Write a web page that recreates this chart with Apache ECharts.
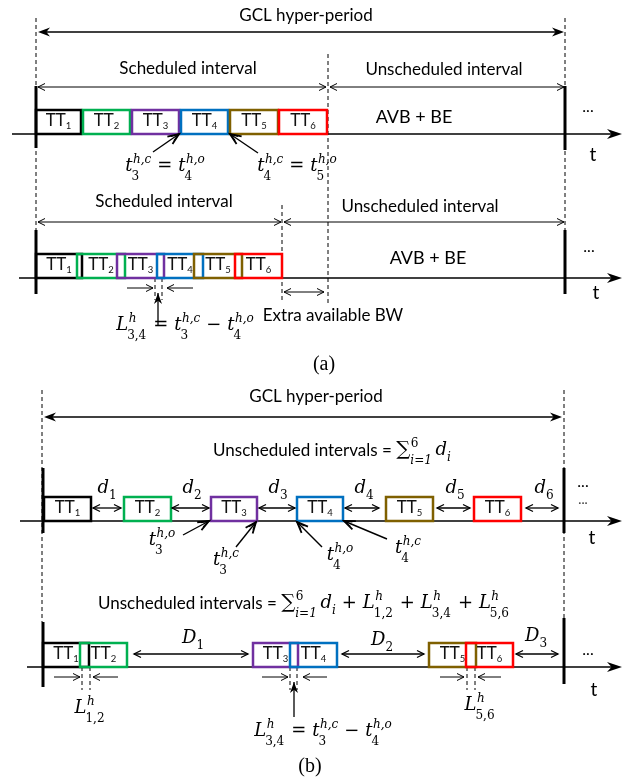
<!DOCTYPE html>
<html><head><meta charset="utf-8">
<script src="https://cdn.jsdelivr.net/npm/echarts@6/dist/echarts.min.js"></script>
<style>html,body{margin:0;padding:0;background:#fff}#c{width:626px;height:781px}</style>
</head><body><div id="c"></div>
<script>
// ---------------- data ----------------
const ttIds = ['1','2','3','4','5','6'];
const ttColors = ['#000000','#00b050','#7030a0','#0070c0','#7f6000','#ff0000'];
const rowBaseline = [134, 278, 521, 667];   // time-axis level of each row
const boxHeight = 24;
// [open, close] time of each TT window per row
const boxesA1 = [[36,81],[83,130],[132,179],[181,228],[230,278],[279,327]];
const boxesA2 = [[36,82],[77,125],[117,164],[157,203],[194,242],[235,282]];
const boxesB1 = [[44,91],[124,171],[211,257],[297,343],[386,433],[474,521]];
const boxesB2 = [[43,89],[80,127],[253,298],[290,337],[429,476],[466,513]];
const rowBoxes = [boxesA1, boxesA2, boxesB1, boxesB2];

// GCL hyper-period borders [x, y1, y2]
const periodBars = [[36,86,148],[565,86,150],[36,230,294],[565,230,294],[43,468,533],[564,468,533],[43,622,687],[564,618,684]];
// dashed guide lines [x, y1, y2]
const dashedLines = [[36,18,230],[565,18,230],[328,54,303],[282,205,303],[155,278,300],[162,278,300],
  [42,390,622],[564,390,618],[82,667,690],[90,667,690],[290,667,690],[297,667,690],[467,667,690],[475,667,690]];
// time axes [x1, x2, y]
const timeAxes = [[12,622,134],[19,622,278],[20,622,521],[27,622,667]];
// double-headed span arrows [x1, x2, y, style]
const spanArrows = [[38,564,32,0],[38,326,87,1],[330,564,87,1],[38,281,222,1],[284,564,222,1],[284,324,292,1],
  [44,562,417,0],
  [93,121,508,2],[172,209,508,2],[259,295,508,2],[345,379,508,2],[437,470,508,2],[526,558,508,2],
  [134,248,654,2],[342,424,654,2],[516,558,654,2]];
// single arrows [x1, y1, x2(tip), y2(tip), style]
const pointArrows = [[153,152,179,134,0],[258,153,230,134,0],
  [183,535,209,521,0],[236,547,256,522,0],[322,547,297,522,0],[387,539,344,521,0],
  [127,288,153,288,1],[193,288,167,288,1],
  [54,677,80,677,1],[118,677,93,677,1],[262,677,288,677,1],[327,677,303,677,1],[440,677,464,677,1],[501,677,478,677,1],
  [158,325,158,293,2],[294,717,294,682,2]];

// plain texts [x, baseline, text, family, size]
const plainTexts = [
  [306,22,'GCL hyper-period','sans',17],
  [188,75,'Scheduled interval','sans',17],
  [444,76,'Unscheduled interval','sans',17],
  [414,124,'AVB + BE','sans',18],
  [588,113,'...','sansb',16],
  [593,162,'t','sans',19],
  [164,208,'Scheduled interval','sans',17],
  [420,213,'Unscheduled interval','sans',17],
  [428,265,'AVB + BE','sans',18],
  [589,253,'...','sansb',16],
  [596,300,'t','sans',19],
  [333,322,'Extra available BW','sans',17],
  [324,372,'(a)','times',20],
  [316,403,'GCL hyper-period','sans',17],
  [583,488,'...','sansb',16],
  [583,508,'···','sans',12],
  [592,545,'t','sans',19],
  [588,656,'...','sansb',16],
  [594,697,'t','sans',19],
  [310,774,'(b)','times',20]
];

// math tokens: [base, sub, sup, kind]
const OP = 'op', SANS = 'sans';
const EQ = '\u2004=\u2004', MINUS = '\u2004−\u2004', PLUS = '\u2004+\u2004';
const eqT3cT4o = [['t','3','h,c'],[EQ,null,null,OP],['t','4','h,o']];
const eqT4cT5o = [['t','4','h,c'],[EQ,null,null,OP],['t','5','h,o']];
const eqL34 = [['L','3,4','h'],[EQ,null,null,OP],['t','3','h,c'],[MINUS,null,null,OP],['t','4','h,o']];
const eqSumD = [['Unscheduled intervals = ',null,null,SANS],['∑','i=1','6',OP],['\u2009',null,null,OP],['d','i',null]];
const eqSumDL = eqSumD.concat([[PLUS,null,null,OP],['L','1,2','h'],[PLUS,null,null,OP],['L','3,4','h'],[PLUS,null,null,OP],['L','5,6','h']]);
const dNames = ['1','2','3','4','5','6'];
const dCenters = [107,192,278,364,455,544];
const DNames = ['1','2','3'];
// math labels [centerX, baseline, tokens]
const mathLabels = [
  [165,173,eqT3cT4o],[297,173,eqT4cT5o],[185,332,eqL34],
  [332,457,eqSumD],
  ...dNames.map((n,i)=>[dCenters[i],495,[['d',n,null]]]),
  [162,547,[['t','3','h,o']]],[226,567,[['t','3','h,c']]],[340,562,[['t','4','h,o']]],[408,555,[['t','4','h,c']]],
  [304,610,eqSumDL],
  [193,645,[['D',DNames[0],null]]],[382,647,[['D',DNames[1],null]]],[536,643,[['D',DNames[2],null]]],
  [90,715,[['L','1,2','h']]],[323,738,eqL34],[480,712,[['L','5,6','h']]]
];

// ---------------- text layout helpers ----------------
const FAM = {sans:'Lato', sansb:'Lato', serif:'DejaVu Serif', times:'Liberation Serif'};
const MID = {sans:0.387, sansb:0.387, serif:0.346, times:0.338};
const mctx = document.createElement('canvas').getContext('2d');
function fontOf(fam, size, italic, bold){ return (italic?'italic ':'') + (bold?'bold ':'') + size + 'px "' + FAM[fam] + '"'; }
function mw(t, f){ mctx.font = f; return mctx.measureText(t).width; }
function piece(text, fam, size, italic, dx, dy, bold){
  return {text, fam, size, dx, dy, font: fontOf(fam, size, italic, bold)};
}
function layoutTokens(tokens, size){
  const items = []; let x = 0;
  tokens.forEach(tok => {
    const [base, sub, sup, kind] = tok;
    const fam = kind === SANS ? 'sans' : 'serif';
    const italic = !kind;
    const bsize = base === '∑' ? size*1.1 : (kind === SANS ? 17 : size);
    const p = piece(base, fam, bsize, italic, x, 0);
    items.push(p);
    x += mw(base, p.font);
    const ss = kind === SANS ? size*0.68 : size*0.67;
    let w = 0;
    if (sup){
      const q = piece(sup, fam, ss, /[a-z]/.test(sup) && kind !== SANS, x + 0.5, -size*0.47);
      items.push(q); w = Math.max(w, mw(sup, q.font) + 0.5);
    }
    if (sub){
      const dy = kind === SANS ? size*0.2 : (sup ? size*0.42 : size*0.3);
      const q = piece(sub, fam, ss, /[a-z]/.test(sub) && kind !== SANS, x + (italic && sup ? -1 : 0), dy);
      items.push(q); w = Math.max(w, mw(sub, q.font));
    }
    x += w;
  });
  return {items, width: x};
}
function textEls(items, x0, baseY, fill){
  return items.map(it => ({type:'text', style:{text: it.text, x: x0 + it.dx, y: baseY + it.dy - MID[it.fam]*it.size,
    font: it.font, fill: fill || '#000', align:'left', verticalAlign:'middle', textAlign:'left', textVerticalAlign:'middle'}}));
}
function head(tip, from, len, hw, kind, lw){
  const dx = tip[0]-from[0], dy = tip[1]-from[1], L = Math.hypot(dx,dy);
  const ux = dx/L, uy = dy/L, nx = -uy, ny = ux;
  const bx = tip[0]-ux*len, by = tip[1]-uy*len;
  const l = [bx+nx*hw, by+ny*hw], r = [bx-nx*hw, by-ny*hw];
  if (kind === 'stealth'){
    const n = [tip[0]-ux*len*0.7, tip[1]-uy*len*0.7];
    return [{type:'polygon', shape:{points:[tip,l,n,r]}, style:{fill:'#000'}}];
  }
  return [{type:'polyline', shape:{points:[l,tip,r]}, style:{stroke:'#000', fill:null, lineWidth:lw}}];
}

// ---------------- series ----------------
const boxItems = [];
rowBoxes.forEach((row, r) => row.forEach((b, i) => boxItems.push([b[0], rowBaseline[r], b[1], r, i])));

const series = [
  { type:'custom', clip:false, silent:true, data: dashedLines.map(d=>[d[0],d[1]]),
    renderItem:(p,api)=>{ const d = dashedLines[p.dataIndex]; const a = api.coord([d[0],d[1]]), b = api.coord([d[0],d[2]]);
      return {type:'line', shape:{x1:a[0],y1:a[1],x2:b[0],y2:b[1]}, style:{stroke:'#000', lineWidth:1, lineDash:[4,3]}}; } },
  { type:'custom', clip:false, silent:true, data: timeAxes.map(d=>[d[0],d[2]]),
    renderItem:(p,api)=>{ const d = timeAxes[p.dataIndex]; const a = api.coord([d[0],d[2]]), b = api.coord([d[1],d[2]]);
      return {type:'group', children:[{type:'line', shape:{x1:a[0],y1:a[1],x2:b[0]-8,y2:b[1]}, style:{stroke:'#000', lineWidth:1.5}}]
        .concat(head(b, a, 15, 5, 'stealth'))}; } },
  { type:'custom', clip:false, silent:true, data: boxItems.map(d=>[d[0],d[1]]),
    renderItem:(p,api)=>{ const d = boxItems[p.dataIndex];
      const a = api.coord([d[0], d[1]-boxHeight]), b = api.coord([d[2], d[1]]);
      const lay = layoutTokens([['TT', ttIds[d[4]], null, SANS]], 14);
      const cx = (a[0]+b[0])/2 - lay.width/2;
      return {type:'group', children:[{type:'rect', shape:{x:a[0], y:a[1], width:b[0]-a[0], height:b[1]-a[1]},
        style:{stroke: ttColors[d[4]], fill:null, lineWidth:2.5}}].concat(textEls(lay.items, cx, b[1]-7, '#111'))}; } },
  { type:'custom', clip:false, silent:true, data: periodBars.map(d=>[d[0],d[1]]),
    renderItem:(p,api)=>{ const d = periodBars[p.dataIndex]; const a = api.coord([d[0],d[1]]), b = api.coord([d[0],d[2]]);
      return {type:'line', shape:{x1:a[0],y1:a[1],x2:b[0],y2:b[1]}, style:{stroke:'#000', lineWidth:3}}; } },
  { type:'custom', clip:false, silent:true, data: spanArrows.map(d=>[d[0],d[2]]),
    renderItem:(p,api)=>{ const d = spanArrows[p.dataIndex]; const a = api.coord([d[0],d[2]]), b = api.coord([d[1],d[2]]);
      const st = d[3]; const lw = st===1 ? 1 : 1.3;
      let hs;
      if (st === 0) hs = head(a, b, 12, 4.5, 'stealth').concat(head(b, a, 12, 4.5, 'stealth'));
      else hs = head(a, b, 7, 3.5, 'open', lw).concat(head(b, a, 7, 3.5, 'open', lw));
      const inset = st === 0 ? 6 : 0;
      return {type:'group', children:[{type:'line', shape:{x1:a[0]+inset,y1:a[1],x2:b[0]-inset,y2:b[1]}, style:{stroke:'#000', lineWidth:lw}}].concat(hs)}; } },
  { type:'custom', clip:false, silent:true, data: pointArrows.map(d=>[d[0],d[1]]),
    renderItem:(p,api)=>{ const d = pointArrows[p.dataIndex]; const a = api.coord([d[0],d[1]]), b = api.coord([d[2],d[3]]);
      const st = d[4]; let hs, lw = 1.2;
      if (st === 0){ lw = 1.4; hs = head(b, a, 11, 4.5, 'open', 1.8).concat(head(b, a, 8, 2.5, 'open', 1.2)); }
      else if (st === 1){ lw = 1; hs = head(b, a, 7, 3.5, 'open', 1); }
      else { lw = 1.3; hs = head(b, a, 11, 4, 'stealth'); }
      return {type:'group', children:[{type:'line', shape:{x1:a[0],y1:a[1],x2:b[0],y2:b[1]}, style:{stroke:'#000', lineWidth:lw}}].concat(hs)}; } },
  { type:'custom', clip:false, silent:true, data: plainTexts.map(d=>[d[0],d[1]]),
    renderItem:(p,api)=>{ const d = plainTexts[p.dataIndex]; const a = api.coord([d[0],d[1]]);
      const it = piece(d[2], d[3], d[4], false, 0, 0, false);
      const w = mw(d[2], it.font);
      return {type:'group', children: textEls([it], a[0]-w/2, a[1], d[2]==='···' ? '#444' : '#000')}; } },
  { type:'custom', clip:false, silent:true, data: mathLabels.map(d=>[d[0],d[1]]),
    renderItem:(p,api)=>{ const d = mathLabels[p.dataIndex]; const a = api.coord([d[0],d[1]]);
      const lay = layoutTokens(d[2], 18);
      return {type:'group', children: textEls(lay.items, a[0]-lay.width/2, a[1])}; } }
];

const chart = echarts.init(document.getElementById('c'), null, {renderer:'canvas'});
chart.setOption({
  animation:false, backgroundColor:'#fff',
  grid:{left:0,right:0,top:0,bottom:0},
  xAxis:{type:'value', min:0, max:626, show:false},
  yAxis:{type:'value', min:0, max:781, inverse:true, show:false},
  series
});
</script></body></html>
